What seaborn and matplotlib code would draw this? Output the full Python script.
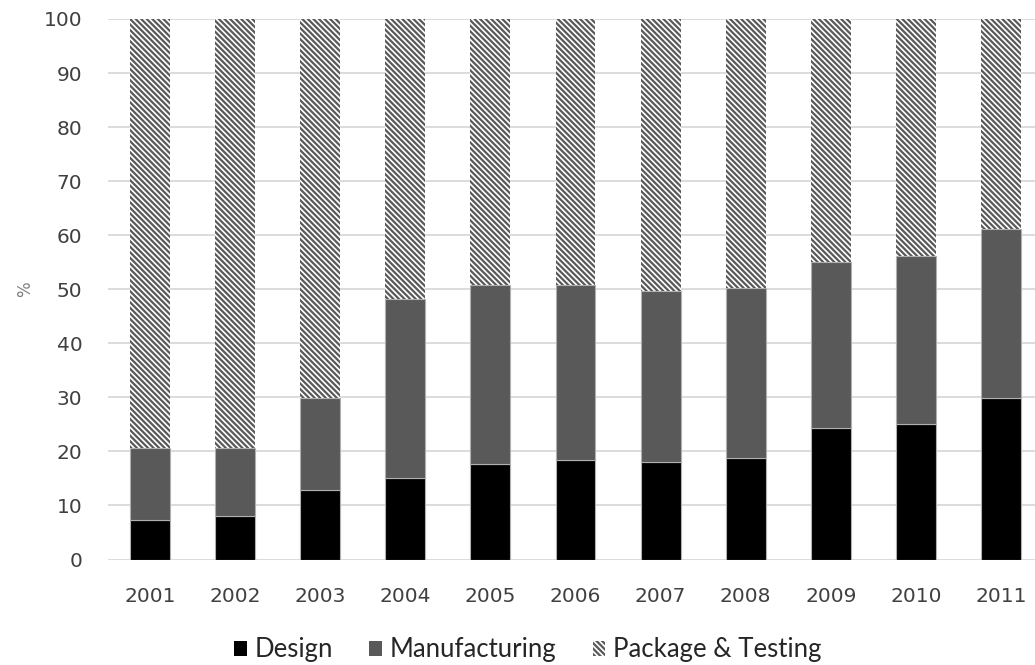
import numpy as np
import pandas as pd
import matplotlib
matplotlib.use("Agg")
import matplotlib.pyplot as plt
from matplotlib.patches import Patch
import seaborn as sns

years = ["2001", "2002", "2003", "2004", "2005", "2006", "2007", "2008", "2009", "2010", "2011"]
design = [7.4, 8.1, 12.9, 15.1, 17.7, 18.4, 18.1, 18.8, 24.4, 25.1, 29.9]
manufacturing = [13.2, 12.6, 17.0, 33.1, 33.0, 32.3, 31.5, 31.5, 30.7, 31.1, 31.3]
package_testing = [79.4, 79.3, 70.1, 51.8, 49.3, 49.3, 50.4, 49.7, 44.9, 43.8, 38.8]
y_ticks = [0, 10, 20, 30, 40, 50, 60, 70, 80, 90, 100]

sns.set_theme(style="white")
plt.rcParams["font.family"] = ["DejaVu Sans"]
plt.rcParams["hatch.linewidth"] = 1.6

df = pd.DataFrame({
    "year": years,
    "Design": design,
    "Manufacturing": manufacturing,
    "Package & Testing": package_testing,
})
df["base_pkg"] = df["Design"] + df["Manufacturing"]

fig = plt.figure(figsize=(10.35, 6.65), dpi=100)
ax = fig.add_axes([107.5 / 1035, 1 - 559.5 / 665, (1043.5 - 107.5) / 1035, (559.5 - 19) / 665])

bar_w = 0.47
edge = "#b0b0b0"
hatch = "\\" * 6

sns.barplot(data=df, x="year", y="Design", color="#000000", saturation=1,
            width=bar_w, edgecolor=edge, linewidth=0.8, ax=ax, zorder=3)
sns.barplot(data=df, x="year", y="Manufacturing", bottom=df["Design"], color="#595959",
            saturation=1, width=bar_w, edgecolor=edge, linewidth=0.8, ax=ax, zorder=3)
sns.barplot(data=df, x="year", y="Package & Testing", bottom=df["base_pkg"], color="white",
            saturation=1, width=bar_w, edgecolor="#595959", linewidth=0, hatch=hatch,
            ax=ax, zorder=3)

ax.set_xlim(-0.5, 10.5)
ax.set_ylim(0, 100)
ax.set_yticks(y_ticks)
ax.yaxis.grid(True, color="#d9d9d9", linewidth=1.3, zorder=0)
ax.set_axisbelow(True)
for s in ax.spines.values():
    s.set_visible(False)
ax.tick_params(axis="both", length=0, labelsize=14.5, labelcolor="#404040")
ax.tick_params(axis="x", pad=20)
ax.tick_params(axis="y", pad=18)
ax.set_xlabel("")
ax.set_ylabel("%", color="#7f7f7f", fontsize=12, labelpad=7)

handles = [
    Patch(facecolor="#000000", edgecolor="none", label="Design"),
    Patch(facecolor="#595959", edgecolor="none", label="Manufacturing"),
    Patch(facecolor="white", edgecolor="#595959", linewidth=0, hatch=hatch, label="Package & Testing"),
]
fig.legend(handles=handles, loc="center", bbox_to_anchor=(528 / 1035, 1 - 650 / 665),
           ncol=3, frameon=False, handlelength=0.5, handleheight=0.5, handletextpad=0.3,
           columnspacing=1.4, prop={"family": "Lato", "size": 18.5}, labelcolor="#262626")

fig.savefig("out.png", dpi=100)
